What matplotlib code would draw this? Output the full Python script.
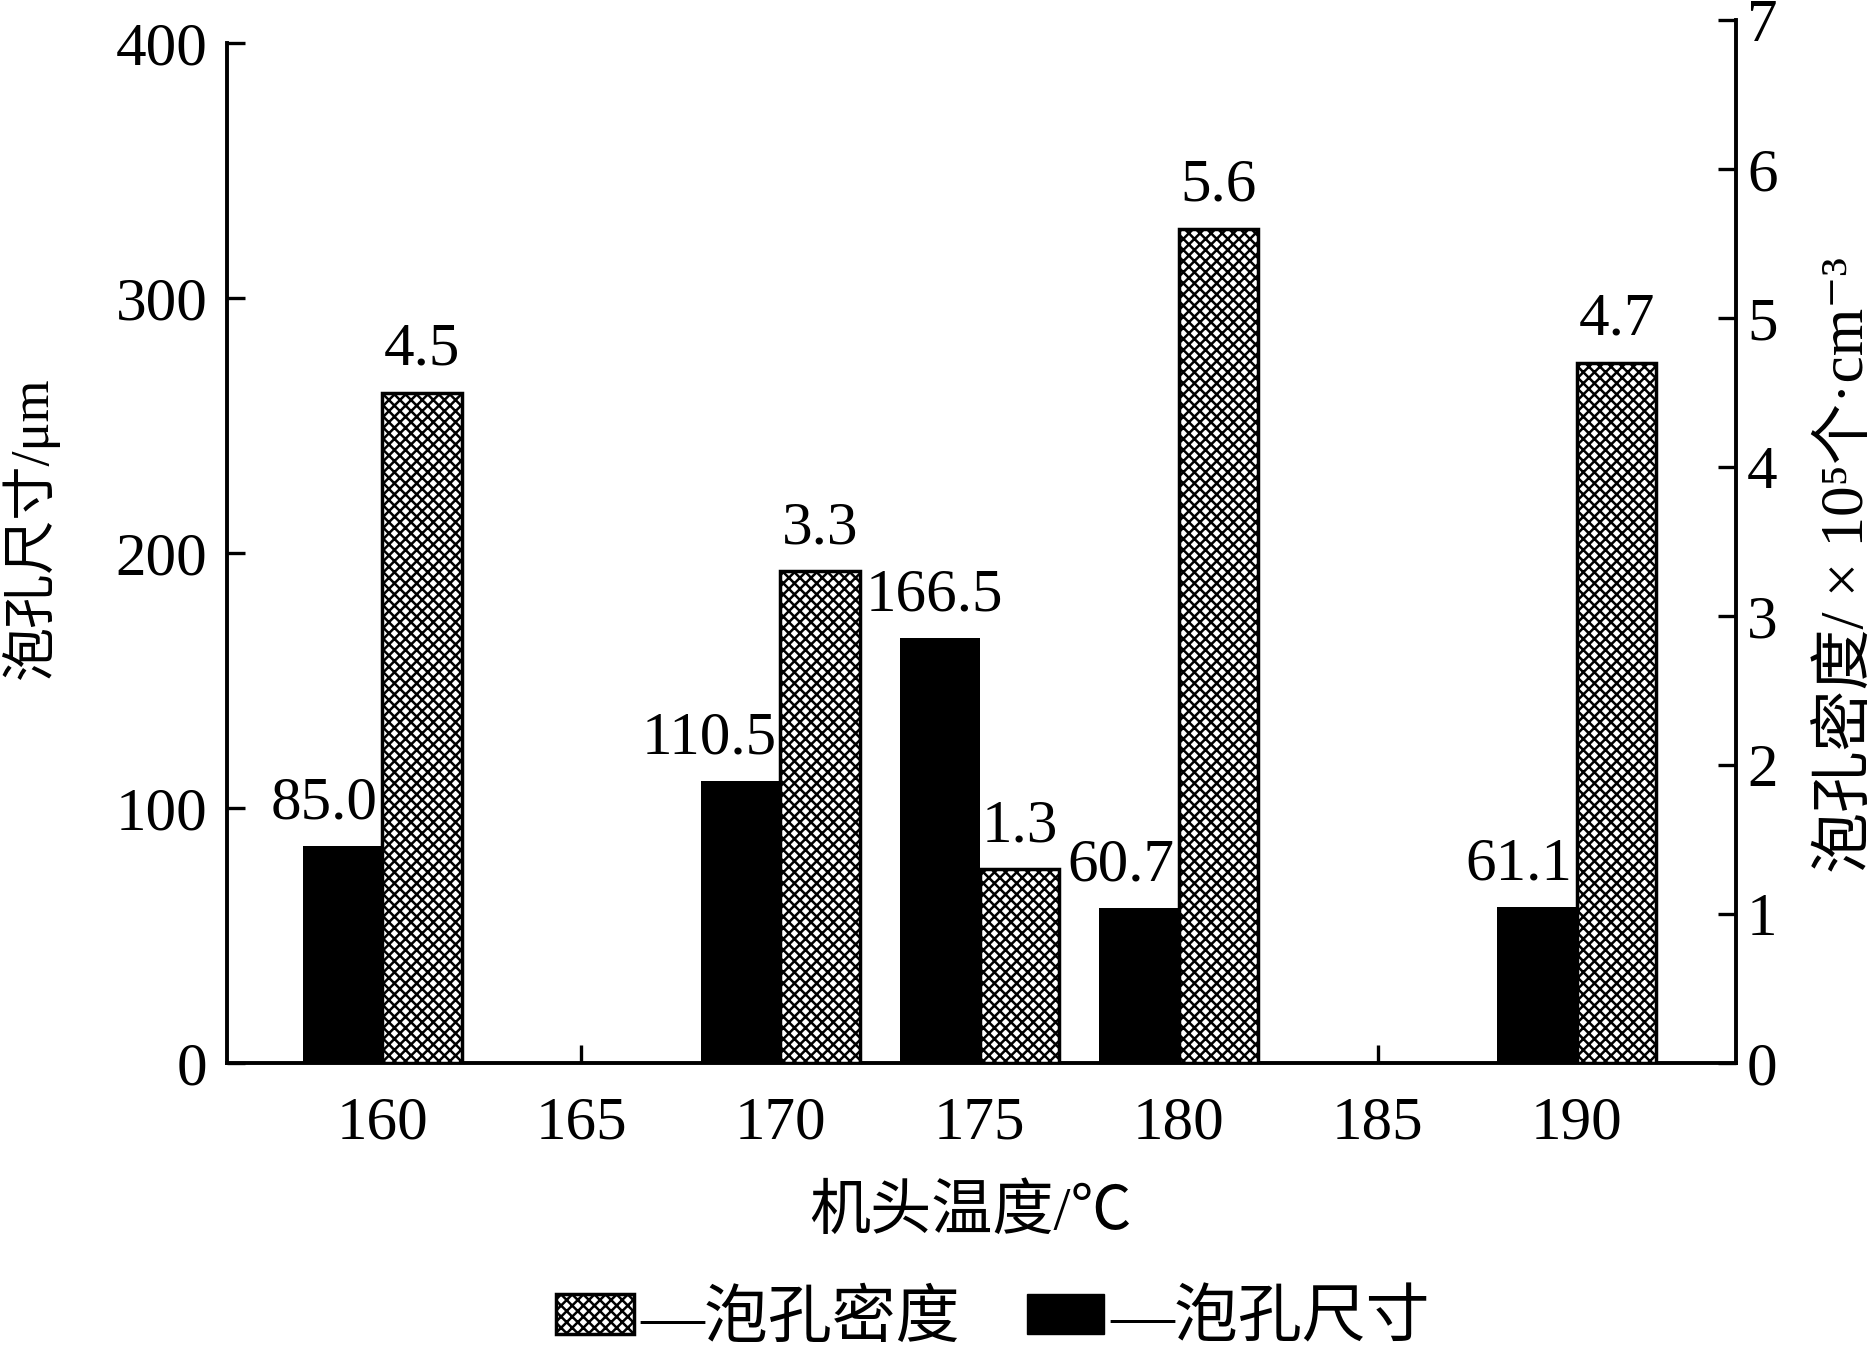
import matplotlib
matplotlib.use("Agg")
import matplotlib.pyplot as plt
from matplotlib.patches import Patch

FAM = ['Liberation Serif', 'Noto Sans CJK SC', 'DejaVu Serif']
plt.rcParams['font.family'] = FAM
plt.rcParams['hatch.linewidth'] = 1.8
plt.rcParams['axes.unicode_minus'] = False

# ---- data ----
temps = [160, 170, 175, 180, 190]
cell_size = [85.0, 110.5, 166.5, 60.7, 61.1]          # 泡孔尺寸 / μm
cell_density = [4.5, 3.3, 1.3, 5.6, 4.7]               # 泡孔密度 / ×10^5 个·cm^-3
size_label_ha = ['right', 'right', 'center', 'right', 'right']
xticks = [160, 165, 170, 175, 180, 185, 190]
left_ticks = [0, 100, 200, 300, 400]
right_ticks = [0, 1, 2, 3, 4, 5, 6, 7]

W, H = 1875, 1350
fig = plt.figure(figsize=(W / 100, H / 100), dpi=100)
ax_l, ax_r, ax_b, ax_t = 227, 1736, 1063, 20
ax = fig.add_axes([ax_l / W, 1 - ax_b / H, (ax_r - ax_l) / W, (ax_b - ax_t) / H])
ax2 = ax.twinx()

bw = 2.0
fs = 44
ax.bar(temps, cell_size, width=-bw, align='edge', color='black', edgecolor='black', linewidth=0)
ax2.bar(temps, cell_density, width=bw, align='edge', color='white', edgecolor='black',
        hatch='xxx', linewidth=2.5)

for x, v, ha in zip(temps, cell_size, size_label_ha):
    if ha == 'right':
        xy, dx = (x, v), -3
    else:
        xy, dx = (x - bw / 2, v), -4
    ax2.annotate(f"{v:.1f}", xy, xycoords=ax.transData, xytext=(dx, 20),
                 textcoords='offset points', ha=ha, va='baseline', fontsize=fs)
for x, v in zip(temps, cell_density):
    ax2.annotate(f"{v:.1f}", (x + bw / 2, v), xytext=(0, 20), textcoords='offset points',
                 ha='center', va='baseline', fontsize=fs)

ax.set_xlim(156.1, 194.0)
ylim_top = 400 * (ax_b - ax_t) / (ax_b - 43)
ax.set_ylim(0, ylim_top)
ax2.set_ylim(0, 7)

ax.set_xticks(xticks)
ax.set_xticklabels([str(t) for t in xticks])
ax.set_yticks(left_ticks)
ax2.set_yticks(right_ticks)

for a in (ax, ax2):
    a.spines['top'].set_visible(False)
    for s in ('left', 'right', 'bottom'):
        a.spines[s].set_linewidth(2.8)
ax.spines['right'].set_visible(False)
ax2.spines['left'].set_visible(False)
ax2.spines['bottom'].set_visible(False)
ax.spines['left'].set_bounds(0, 400)

ax.tick_params(axis='y', direction='in', length=13, width=2.4, labelsize=fs, pad=14)
ax.tick_params(axis='x', direction='in', length=13, width=2.4, labelsize=fs, pad=24)
ax2.tick_params(axis='y', direction='in', length=13, width=2.4, labelsize=fs, pad=8)

fig.text(971 / W, 1 - 1214 / H, "机头温度/℃", ha='center', va='center', fontsize=44)
fig.text(30 / W, 1 - 528 / H, "泡孔尺寸/μm", ha='center', va='center', rotation=90, fontsize=39)
fig.text(1848 / W, 1 - 565 / H, "泡孔密度/ × 10⁵个·cm⁻³", ha='center', va='center',
         rotation=90, fontsize=44)

handles = [Patch(facecolor='white', edgecolor='black', hatch='xxx', linewidth=2.5),
           Patch(facecolor='black', edgecolor='black')]
fig.legend(handles, ["—泡孔密度", "—泡孔尺寸"], loc='center', bbox_to_anchor=(993 / W, 1 - 1321 / H),
           ncol=2, frameon=False, fontsize=46, handlelength=1.22, handleheight=0.6,
           handletextpad=0.1, columnspacing=1.05)

fig.savefig("out.png", dpi=100)
